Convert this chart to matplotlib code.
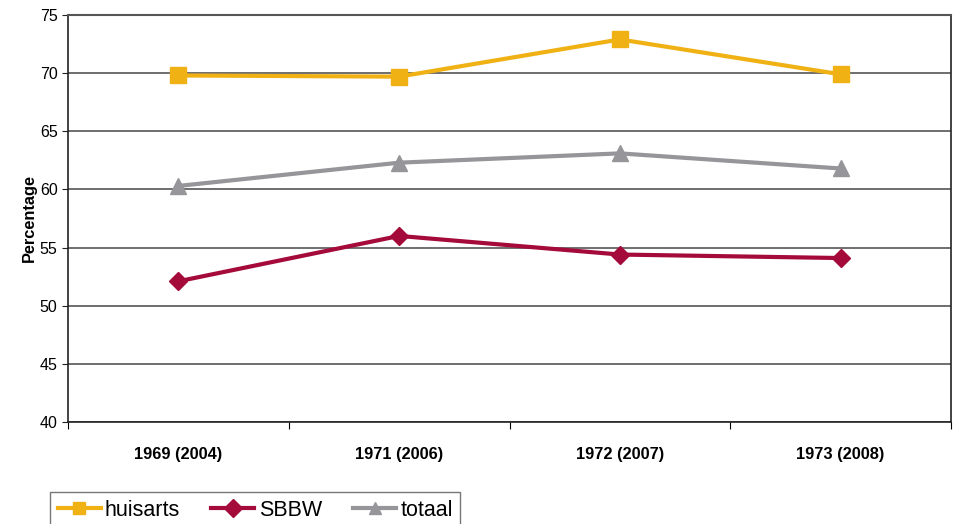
import numpy as np
import matplotlib.pyplot as plt
from matplotlib.ticker import FixedLocator, NullFormatter

plt.rcParams['font.family'] = ['Liberation Sans', 'DejaVu Sans']

categories = ["1969 (2004)", "1971 (2006)", "1972 (2007)", "1973 (2008)"]
huisarts = [69.8, 69.7, 72.9, 69.9]
sbbw = [52.1, 56.0, 54.4, 54.1]
totaal = [60.3, 62.3, 63.1, 61.8]

fig = plt.figure(figsize=(9.59, 5.24), dpi=100)
ax = fig.add_axes([68 / 959, 1 - 422 / 524, (951 - 68) / 959, (422 - 15) / 524])

x = np.arange(len(categories))
ax.plot(x, huisarts, color="#F0B115", lw=3, marker="s", ms=11, label="huisarts")
ax.plot(x, sbbw, color="#A50B3A", lw=3, marker="D", ms=9, label="SBBW")
ax.plot(x, totaal, color="#96969A", lw=3, marker="^", ms=12, label="totaal")

ax.set_xlim(-0.5, 3.5)
ax.set_ylim(40, 75)
ax.set_yticks(np.arange(40, 76, 5))
ax.yaxis.grid(True, color="#555555", lw=1.2)
ax.set_axisbelow(True)

ax.xaxis.set_major_locator(FixedLocator(np.arange(-0.5, 4, 1)))
ax.xaxis.set_major_formatter(NullFormatter())
ax.xaxis.set_minor_locator(FixedLocator(x))
ax.set_xticklabels(categories, minor=True, fontweight="bold", fontsize=11.8)
ax.tick_params(axis="x", which="major", length=5, direction="out")
ax.tick_params(axis="x", which="minor", length=0, pad=18)
ax.tick_params(axis="y", length=4, labelsize=11.5, color="#222222")

for s in ["left", "bottom", "right"]:
    ax.spines[s].set_color("#222222")
    ax.spines[s].set_linewidth(1.2)
ax.spines["top"].set_color("#555555")
ax.spines["top"].set_linewidth(1.5)

ax.set_ylabel("Percentage", fontweight="bold", fontsize=11.8, labelpad=2)

leg = fig.legend(loc="upper left", bbox_to_anchor=(50 / 959, 1 - 492 / 524), ncol=3,
                 fontsize=15.5, frameon=True, fancybox=False, edgecolor="#555555",
                 handlelength=2.0, columnspacing=1.45, handletextpad=0.2,
                 borderpad=0.35, borderaxespad=0)
for h in leg.legend_handles:
    h.set_markersize(9)

fig.savefig("out.png", dpi=100)
